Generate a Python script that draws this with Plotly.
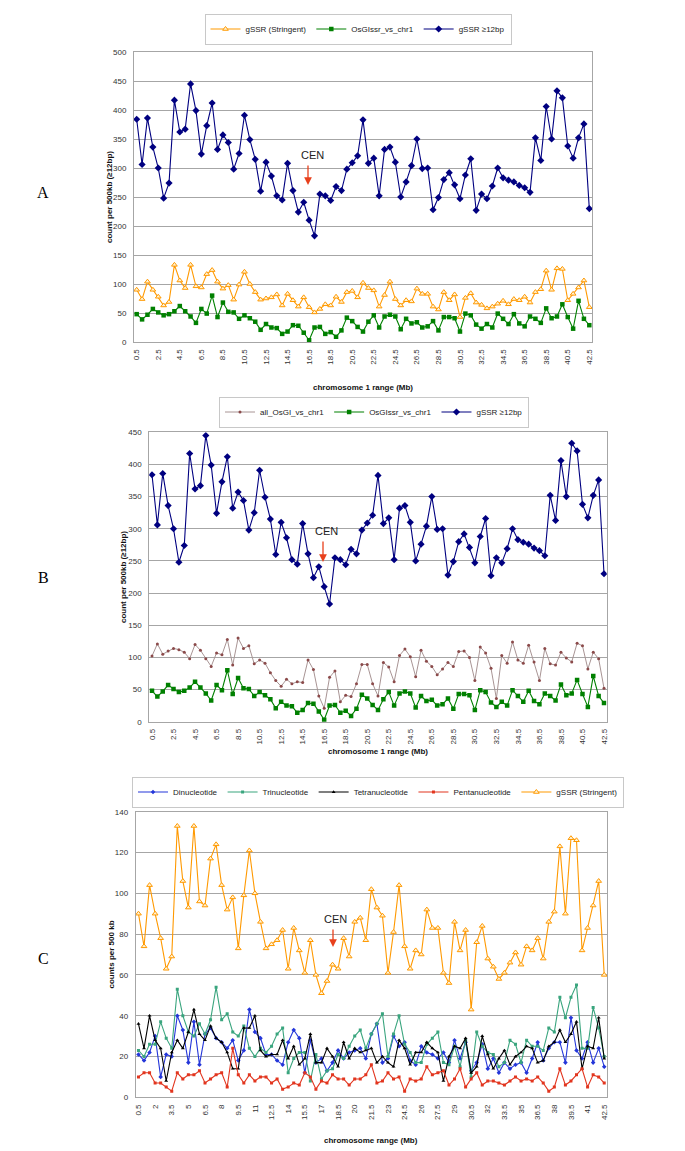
import plotly.graph_objects as go

# The page body has an 8px default margin; the figure fills the rest of the 685x1151 window.
OFF = 8
W, H = 685 - OFF, 1151 - OFF

cats = ["0.5","1","1.5","2","2.5","3","3.5","4","4.5","5","5.5","6","6.5","7","7.5","8","8.5","9","9.5","10",
        "10.5","11","11.5","12","12.5","13","13.5","14","14.5","15","15.5","16","16.5","17","17.5","18","18.5","19","19.5","20",
        "20.5","21","21.5","22","22.5","23","23.5","24","24.5","25","25.5","26","26.5","27","27.5","28","28.5","29","29.5","30",
        "30.5","31","31.5","32","32.5","33","33.5","34","34.5","35","35.5","36","36.5","37","37.5","38","38.5","39","39.5","40",
        "40.5","41","41.5","42","42.5"]

gssr_stringent = [90, 74, 104, 90, 78, 63, 69, 133, 106, 93,
                  133, 96, 94, 117, 124, 104, 92, 98, 73, 99,
                  121, 100, 86, 73, 75, 77, 82, 63, 83, 72,
                  61, 77, 60, 51, 57, 65, 63, 78, 69, 86,
                  88, 77, 102, 93, 89, 61, 81, 104, 74, 63,
                  72, 70, 92, 83, 83, 61, 56, 86, 72, 82,
                  43, 76, 84, 68, 64, 58, 61, 66, 71, 65,
                  74, 72, 78, 68, 86, 91, 123, 90, 127, 126,
                  72, 83, 94, 106, 60]

gssr_12bp = [384, 306, 386, 336, 300, 248, 274, 417, 362, 367,
             445, 399, 324, 373, 412, 332, 357, 344, 298, 325,
             391, 349, 315, 260, 310, 286, 252, 245, 308, 261,
             224, 241, 210, 183, 255, 252, 244, 268, 261, 298,
             309, 321, 383, 308, 317, 252, 332, 336, 310, 250,
             276, 304, 350, 299, 300, 228, 249, 280, 292, 271,
             247, 288, 316, 227, 255, 247, 269, 300, 283, 279,
             276, 270, 266, 258, 352, 313, 406, 350, 433, 421,
             338, 317, 352, 376, 230]

osgissr = [48, 39, 47, 57, 51, 46, 48, 53, 62, 53,
           44, 33, 57, 49, 80, 43, 68, 52, 51, 40,
           46, 41, 35, 21, 31, 25, 24, 14, 18, 29,
           28, 16, 3, 25, 26, 14, 17, 9, 20, 42,
           36, 26, 18, 35, 46, 25, 44, 47, 44, 22,
           40, 32, 34, 25, 27, 36, 20, 43, 43, 41,
           18, 49, 46, 30, 23, 31, 25, 49, 40, 31,
           48, 32, 27, 44, 40, 33, 58, 41, 44, 65,
           43, 23, 71, 40, 29]

all_osgi = [102, 121, 105, 110, 114, 112, 108, 98, 120, 111,
            98, 86, 107, 104, 128, 88, 130, 114, 118, 90,
            96, 91, 76, 64, 55, 66, 59, 62, 61, 96,
            81, 40, 21, 69, 79, 31, 41, 39, 59, 89,
            89, 59, 40, 92, 85, 62, 103, 113, 101, 70,
            111, 94, 86, 73, 82, 92, 86, 109, 110, 100,
            64, 116, 107, 83, 36, 103, 91, 124, 96, 91,
            119, 93, 64, 114, 90, 88, 108, 99, 93, 122,
            118, 82, 108, 98, 52]

dinuc = [21, 18, 22, 30, 10, 21, 20, 40, 33, 17,
         37, 16, 31, 34, 29, 27, 24, 28, 18, 23,
         43, 32, 29, 21, 21, 18, 16, 27, 33, 29,
         12, 28, 17, 19, 13, 17, 23, 19, 22, 23,
         24, 19, 31, 36, 17, 19, 30, 25, 27, 18,
         16, 25, 22, 21, 19, 22, 17, 28, 19, 27,
         13, 17, 26, 14, 19, 12, 17, 14, 16, 17,
         12, 19, 27, 18, 24, 27, 27, 17, 39, 23,
         19, 27, 17, 24, 15]

trinuc = [23, 20, 26, 26, 37, 29, 24, 53, 40, 32,
          30, 36, 31, 38, 54, 38, 41, 32, 30, 35,
          24, 20, 24, 22, 25, 31, 34, 12, 19, 22,
          22, 8, 21, 9, 13, 14, 21, 19, 25, 30,
          33, 24, 31, 36, 41, 20, 31, 40, 26, 22,
          17, 17, 26, 29, 32, 17, 16, 25, 15, 28,
          10, 32, 25, 22, 21, 15, 17, 28, 26, 17,
          28, 25, 25, 23, 34, 32, 49, 39, 49, 55,
          24, 24, 44, 34, 20]

tetranuc = [36, 24, 40, 28, 24, 8, 22, 28, 24, 32,
            43, 31, 28, 35, 29, 27, 22, 14, 14, 34,
            34, 40, 23, 20, 21, 21, 28, 19, 25, 16,
            19, 31, 17, 17, 24, 20, 15, 27, 19, 24,
            22, 23, 24, 17, 20, 17, 15, 28, 24, 16,
            22, 22, 27, 24, 22, 8, 20, 25, 24, 29,
            12, 15, 30, 21, 14, 19, 23, 16, 20, 22,
            25, 24, 17, 18, 25, 27, 33, 27, 31, 37,
            14, 25, 24, 39, 19]

pentanuc = [10, 12, 12, 7, 7, 5, 3, 12, 9, 11,
            11, 13, 7, 9, 11, 12, 5, 24, 11, 7,
            11, 8, 10, 10, 7, 9, 4, 5, 7, 6,
            12, 10, 4, 8, 7, 11, 9, 9, 6, 9,
            9, 11, 16, 7, 8, 12, 9, 10, 3, 9,
            8, 9, 15, 11, 12, 13, 6, 9, 14, 5,
            9, 12, 6, 8, 8, 7, 6, 8, 10, 8,
            9, 8, 10, 7, 3, 5, 14, 6, 8, 11,
            14, 5, 11, 10, 7]

FONT = "Liberation Sans, Arial, sans-serif"
ORANGE = "#FF9900"
GREEN = "#008000"
NAVY = "#000080"


def px(x):
    return (x - OFF) / W


def py(y):
    return 1 - (y - OFF) / H


style = {
    "stringent": dict(line=dict(color=ORANGE, width=1.1),
                      marker=dict(symbol="triangle-up", size=5, color="#FFF3D6", line=dict(color=ORANGE, width=1))),
    "ssr": dict(line=dict(color=GREEN, width=1.1),
                marker=dict(symbol="square", size=4.5, color=GREEN)),
    "b12": dict(line=dict(color=NAVY, width=1.1),
                marker=dict(symbol="diamond", size=5.5, color=NAVY)),
    "all": dict(line=dict(color="#A89494", width=1),
                marker=dict(symbol="circle", size=3, color="#8B4A4A")),
    "di": dict(line=dict(color="#2436D9", width=1.1),
               marker=dict(symbol="diamond", size=3.5, color="#2436D9")),
    "tri": dict(line=dict(color="#3AA57E", width=1.1),
                marker=dict(symbol="square", size=3, color="#3AA57E")),
    "tetra": dict(line=dict(color="#000000", width=1.1),
                  marker=dict(symbol="triangle-up", size=3.5, color="#000000")),
    "penta": dict(line=dict(color="#E2351E", width=1.1),
                  marker=dict(symbol="square", size=3, color="#E2351E")),
}

fig = go.Figure()


def add(name, vals, key, xa, ya, legend):
    fig.add_trace(go.Scatter(x=cats, y=vals, name=name, mode="lines+markers",
                             xaxis=xa, yaxis=ya, legend=legend, **style[key]))


# Panel A
add("gSSR (Stringent)", gssr_stringent, "stringent", "x", "y", "legend")
add("OsGIssr_vs_chr1", osgissr, "ssr", "x", "y", "legend")
add("gSSR ≥12bp", gssr_12bp, "b12", "x", "y", "legend")
# Panel B
add("all_OsGI_vs_chr1", all_osgi, "all", "x2", "y2", "legend2")
add("OsGIssr_vs_chr1", osgissr, "ssr", "x2", "y2", "legend2")
add("gSSR ≥12bp", gssr_12bp, "b12", "x2", "y2", "legend2")
# Panel C
add("Dinucleotide", dinuc, "di", "x3", "y3", "legend3")
add("Trinucleotide", trinuc, "tri", "x3", "y3", "legend3")
add("Tetranucleotide", tetranuc, "tetra", "x3", "y3", "legend3")
add("Pentanucleotide", pentanuc, "penta", "x3", "y3", "legend3")
add("gSSR (Stringent)", gssr_stringent, "stringent", "x3", "y3", "legend3")

GRID = "#A6A6A6"
tickfont = dict(family=FONT, size=8, color="#333333")


def xaxis(dom, anchor, step):
    return dict(domain=dom, anchor=anchor, type="category", categoryorder="array", categoryarray=cats,
                range=[-0.5, len(cats) - 0.5], tickvals=cats[::step], ticktext=cats[::step],
                tickangle=-90, tickfont=tickfont, showgrid=False, showline=True, linecolor=GRID,
                linewidth=1, mirror=True, ticks="", zeroline=False, ticklabelstandoff=3, automargin=False)


def yaxis(dom, anchor, top, dtick):
    return dict(domain=dom, anchor=anchor, range=[0, top], dtick=dtick, tick0=0, tickfont=tickfont,
                showgrid=True, gridcolor=GRID, gridwidth=1, showline=True, linecolor=GRID, linewidth=1,
                mirror=True, ticks="", zeroline=False, ticklabelstandoff=5, automargin=False)


A = (134, 592, 52, 342)
B = (149.3, 606.7, 432.3, 721.7)
C = (135.7, 607, 811.7, 1097.3)

fig.update_layout(
    width=W, height=H, margin=dict(l=0, r=0, t=0, b=0, autoexpand=False),
    paper_bgcolor="white", plot_bgcolor="white",
    font=dict(family=FONT, size=8, color="#222222"),
    xaxis=xaxis([px(A[0]), px(A[1])], "y", 4),
    yaxis=yaxis([py(A[3]), py(A[2])], "x", 500, 50),
    xaxis2=xaxis([px(B[0]), px(B[1])], "y2", 4),
    yaxis2=yaxis([py(B[3]), py(B[2])], "x2", 450, 50),
    xaxis3=xaxis([px(C[0]), px(C[1])], "y3", 3),
    yaxis3=yaxis([py(C[3]), py(C[2])], "x3", 140, 20),
    showlegend=True,
)

leg_common = dict(orientation="h", xanchor="center", yanchor="middle", bgcolor="white",
                  bordercolor="#C8C8C8", borderwidth=1, font=dict(family=FONT, size=8, color="#222222"),
                  itemwidth=30, tracegroupgap=0, traceorder="normal")
fig.update_layout(
    legend=dict(x=px(358), y=py(29), **leg_common),
    legend2=dict(x=px(374), y=py(412), **leg_common),
    legend3=dict(x=px(378), y=py(792), **leg_common),
)

ann = []
bold = dict(family=FONT, size=8, color="#111111")
# y titles
for txt, x, P in [("count per 500kb (≥12bp)", 109, A), ("count per 500kb (≥12bp)", 123, B),
                  ("counts per 500 kb", 111, C)]:
    ann.append(dict(text="<b>" + txt + "</b>", x=px(x), y=py((P[2] + P[3]) / 2), xref="paper", yref="paper",
                    textangle=-90, showarrow=False, font=bold, xanchor="center", yanchor="middle"))
# x titles
for txt, y, P in [("chromosome 1 range (Mb)", 387, A), ("chromosome 1 range (Mb)", 751, B),
                  ("chromosome range (Mb)", 1140, C)]:
    ann.append(dict(text="<b>" + txt + "</b>", x=px((P[0] + P[1]) / 2), y=py(y), xref="paper", yref="paper",
                    showarrow=False, font=bold, xanchor="center", yanchor="middle"))
# panel letters
for txt, y in [("A", 192), ("B", 577), ("C", 958)]:
    ann.append(dict(text=txt, x=px(43), y=py(y), xref="paper", yref="paper", showarrow=False,
                    font=dict(family="Liberation Serif, Times New Roman, serif", size=16, color="#000000"),
                    xanchor="center", yanchor="middle"))
# CEN labels and arrows
for tx, ty, ax_, y0, y1 in [(312, 155, 308, 164, 185), (326, 531, 323, 540, 562), (335, 919, 333, 928, 947)]:
    ann.append(dict(text="CEN", x=px(tx), y=py(ty), xref="paper", yref="paper", showarrow=False,
                    font=dict(family=FONT, size=11, color="#222222"), xanchor="center", yanchor="middle"))
    ann.append(dict(text="", x=px(ax_), y=py(y1), xref="paper", yref="paper", showarrow=True,
                    ax=0, ay=-(y1 - y0), arrowcolor="#E8401C", arrowhead=2, arrowsize=1.2, arrowwidth=1.3))
fig.update_layout(annotations=ann)

fig.write_html("out.html")
